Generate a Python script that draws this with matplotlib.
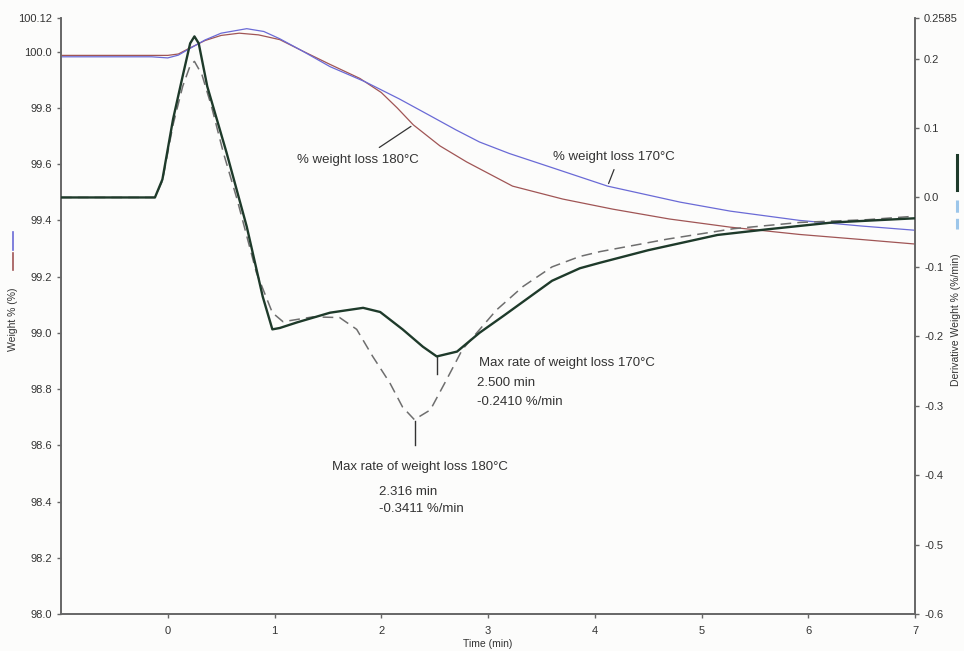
import matplotlib
matplotlib.use("Agg")
import matplotlib.pyplot as plt
from matplotlib.lines import Line2D

plt.rcParams['font.family'] = ['Liberation Sans', 'DejaVu Sans']

# weight % curves (left axis)
t_w170 = [-1.0, -0.15, 0.0, 0.1, 0.2, 0.35, 0.5, 0.74, 0.9, 1.05, 1.25, 1.52, 1.85,
          2.17, 2.46, 2.7, 2.92, 3.2, 3.55, 4.12, 4.8, 5.27, 5.92, 6.5, 7.0]
w170 = [99.982, 99.982, 99.978, 99.988, 100.010, 100.042, 100.066, 100.082, 100.072,
        100.046, 100.005, 99.947, 99.893, 99.832, 99.772, 99.722, 99.679,
        99.638, 99.594, 99.522, 99.465, 99.433, 99.400, 99.380, 99.365]

t_w180 = [-1.0, 0.0, 0.1, 0.2, 0.35, 0.5, 0.67, 0.85, 1.05, 1.25, 1.52, 1.8, 2.0, 2.15,
          2.30, 2.55, 2.80, 3.23, 3.70, 4.17, 4.7, 5.27, 5.92, 6.5, 7.0]
w180 = [99.987, 99.987, 99.992, 100.012, 100.040, 100.058, 100.066, 100.060, 100.043,
        100.005, 99.955, 99.905, 99.855, 99.800, 99.740, 99.665, 99.608, 99.522, 99.476,
        99.440, 99.405, 99.376, 99.350, 99.332, 99.316]

# derivative weight curves (right axis)
t_d170 = [-1.0, -0.12, -0.05, 0.05, 0.14, 0.21, 0.25, 0.29, 0.37, 0.55, 0.74, 0.89,
          0.98, 1.05, 1.21, 1.52, 1.83, 1.99, 2.20, 2.39, 2.52, 2.71, 2.92, 3.15, 3.33,
          3.6, 3.86, 4.05, 4.5, 5.15, 5.61, 6.23, 7.0]
d170 = [0.0, 0.0, 0.026, 0.113, 0.175, 0.222, 0.232, 0.222, 0.160, 0.065, -0.042,
        -0.143, -0.190, -0.188, -0.180, -0.166, -0.159, -0.165, -0.190, -0.215, -0.229,
        -0.222, -0.195, -0.170, -0.150, -0.120, -0.102, -0.094, -0.076, -0.054, -0.046,
        -0.036, -0.030]

t_d180 = [-1.0, -0.12, -0.05, 0.05, 0.14, 0.21, 0.25, 0.32, 0.41, 0.52, 0.65, 0.83,
          0.98, 1.08, 1.36, 1.61, 1.77, 1.92, 2.08, 2.20, 2.31, 2.46, 2.61, 2.76, 3.08,
          3.33, 3.6, 3.86, 4.05, 4.68, 5.30, 5.92, 6.55, 7.0]
d180 = [0.0, 0.0, 0.024, 0.105, 0.160, 0.190, 0.196, 0.177, 0.131, 0.065, -0.003,
        -0.108, -0.166, -0.179, -0.172, -0.173, -0.190, -0.229, -0.267, -0.302, -0.320,
        -0.306, -0.263, -0.219, -0.162, -0.128, -0.100, -0.085, -0.078, -0.060, -0.045,
        -0.036, -0.032, -0.027]

left_ticks = [98.0, 98.2, 98.4, 98.6, 98.8, 99.0, 99.2, 99.4, 99.6, 99.8, 100.0, 100.12]
left_labels = ['98.0', '98.2', '98.4', '98.6', '98.8', '99.0', '99.2', '99.4', '99.6',
               '99.8', '100.0', '100.12']
right_ticks = [-0.6, -0.5, -0.4, -0.3, -0.2, -0.1, 0.0, 0.1, 0.2, 0.2585]
right_labels = ['-0.6', '-0.5', '-0.4', '-0.3', '-0.2', '-0.1', '0.0', '0.1', '0.2', '0.2585']
x_ticks = [0, 1, 2, 3, 4, 5, 6, 7]

blue = '#6a6ad6'
red = '#a05555'
green = '#1e3a2a'
grey = '#6e6e6e'
spine_c = '#666666'
txt_c = '#333333'

W, H = 964, 651
fig = plt.figure(figsize=(W / 100, H / 100), dpi=100, facecolor='#fcfcfb')
ax = fig.add_axes([61 / W, 37 / H, (915 - 61) / W, (614 - 18) / H])
ax.set_facecolor('#fcfcfb')
ax2 = ax.twinx()

ax.plot(t_w180, w180, color=red, lw=0.9, zorder=3)
ax.plot(t_w170, w170, color=blue, lw=0.9, zorder=3)
ax2.plot(t_d180, d180, color=grey, lw=1.1, dashes=(7, 4), zorder=3)
ax2.plot(t_d170, d170, color=green, lw=1.7, zorder=4)

ax.set_xlim(-1, 7)
ax.set_ylim(98.0, 100.12)
ax2.set_ylim(-0.6, 0.2585)

ax.set_xticks(x_ticks)
ax.set_yticks(left_ticks)
ax.set_yticklabels(left_labels)
ax2.set_yticks(right_ticks)
ax2.set_yticklabels(right_labels)

for a in (ax, ax2):
    for s in a.spines.values():
        s.set_color(spine_c)
        s.set_linewidth(1.2)
    a.spines['top'].set_visible(False)
    a.tick_params(colors=spine_c, labelcolor=txt_c, labelsize=8, length=3, width=1)
ax.tick_params(axis='x', pad=6)

ax.set_xlabel('Time (min)', fontsize=7.5, color=txt_c, labelpad=2)

# axis titles with small legend marks
fig.text(13 / W, 1 - 319 / H, 'Weight % (%)', rotation=90, ha='center', va='center',
         fontsize=7.5, color=txt_c)
fig.add_artist(Line2D([13 / W, 13 / W], [1 - 232 / H, 1 - 250 / H], color=blue, lw=1.2))
fig.add_artist(Line2D([13 / W, 13 / W], [1 - 253 / H, 1 - 270 / H], color=red, lw=1.2))

fig.text(956 / W, 1 - 320 / H, 'Derivative Weight % (%/min)', rotation=90, ha='center',
         va='center', fontsize=7.5, color=txt_c)
fig.add_artist(Line2D([957 / W, 957 / W], [1 - 155 / H, 1 - 190 / H], color=green, lw=2.2))
fig.add_artist(Line2D([957 / W, 957 / W], [1 - 200 / H, 1 - 229 / H], color='#9cc6ea',
                      lw=2.2, dashes=(4, 2)))

# annotations
fs = 9.5
ax.annotate('', xy=(2.30, 99.740), xytext=(1.96, 99.654),
            arrowprops=dict(arrowstyle='-', color='#333333', lw=0.9))
ax.text(1.21, 99.615, '% weight loss 180\u00b0C', fontsize=fs, color=txt_c, va='center')
ax.annotate('', xy=(4.12, 99.522), xytext=(4.19, 99.59),
            arrowprops=dict(arrowstyle='-', color='#333333', lw=0.9))
ax.text(3.61, 99.626, '% weight loss 170\u00b0C', fontsize=fs, color=txt_c, va='center')

ax2.plot([2.52, 2.52], [-0.229, -0.255], color='#333333', lw=1.0)
ax2.text(2.92, -0.238, 'Max rate of weight loss 170\u00b0C', fontsize=fs, color=txt_c,
         va='center')
ax2.text(2.90, -0.267, '2.500 min', fontsize=fs, color=txt_c, va='center')
ax2.text(2.90, -0.294, '-0.2410 %/min', fontsize=fs, color=txt_c, va='center')

ax2.plot([2.32, 2.32], [-0.322, -0.356], color='#333333', lw=1.0)
ax2.text(1.54, -0.388, 'Max rate of weight loss 180\u00b0C', fontsize=fs, color=txt_c,
         va='center')
ax2.text(1.98, -0.424, '2.316 min', fontsize=fs, color=txt_c, va='center')
ax2.text(1.98, -0.449, '-0.3411 %/min', fontsize=fs, color=txt_c, va='center')

fig.savefig('out.png', dpi=100, facecolor=fig.get_facecolor())
